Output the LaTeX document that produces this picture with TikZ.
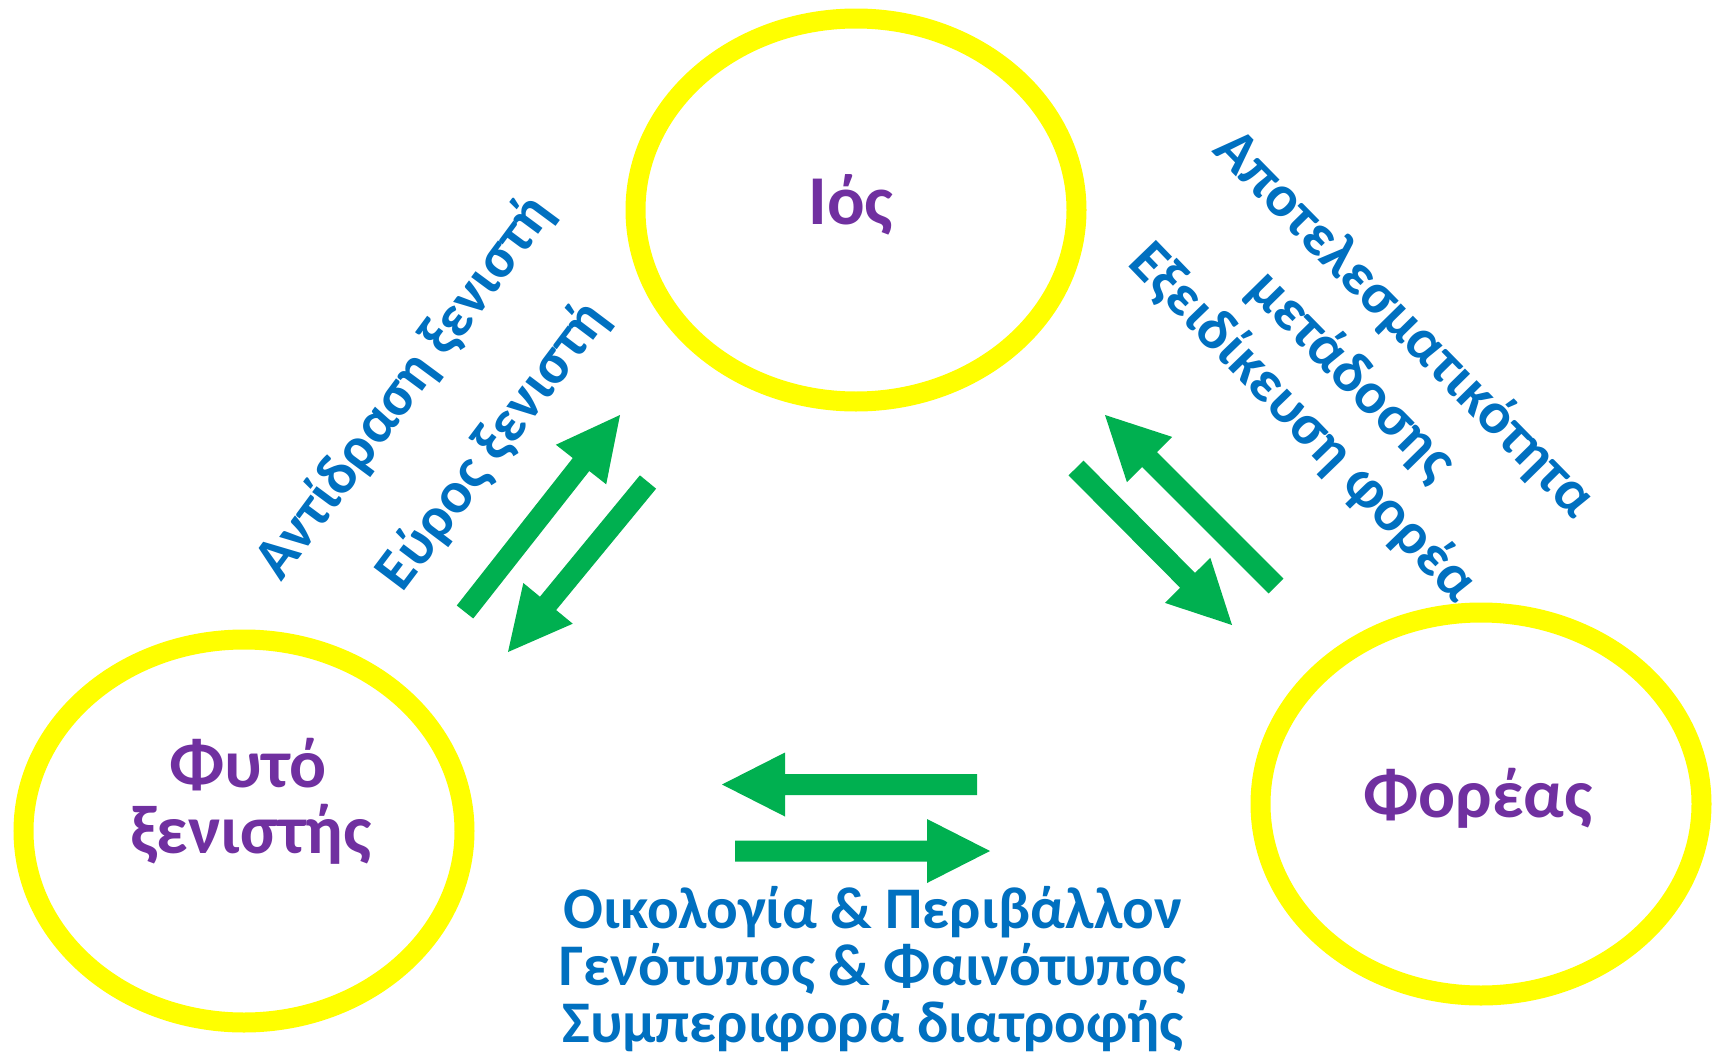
\documentclass[tikz,border=0pt]{standalone}
\usepackage{fontspec}
\setmainfont{Carlito}
\usetikzlibrary{calc,shapes.geometric}
\definecolor{ringyellow}{HTML}{FFFF00}
\definecolor{labpurple}{HTML}{7030A0}
\definecolor{labblue}{HTML}{0070C0}
\definecolor{arrgreen}{HTML}{00B050}
\newcommand\greenarrow[2]{%
  \fill[arrgreen]
    ($(#1)!10.5pt!90:(#2)$) --
    ($($(#2)!63pt!(#1)$)!10.5pt!90:(#2)$) --
    ($($(#2)!63pt!(#1)$)!32pt!90:(#2)$) --
    (#2) --
    ($($(#2)!63pt!(#1)$)!32pt!-90:(#2)$) --
    ($($(#2)!63pt!(#1)$)!10.5pt!-90:(#2)$) --
    ($(#1)!10.5pt!-90:(#2)$) -- cycle;}
\begin{document}
\begin{tikzpicture}[x=1pt,y=-1pt,
  ring/.style={draw=ringyellow, line width=20pt, ellipse, inner sep=0pt,
    minimum width=441pt, minimum height=383pt},
  bigtxt/.style={text=labpurple, font=\bfseries\fontsize{69}{69}\selectfont, inner sep=0pt, anchor=base},
  bluetxt/.style={text=labblue, font=\bfseries\fontsize{59}{59}\selectfont, inner sep=0pt, align=center}]
\useasboundingbox (0,0) rectangle (1717,1055);
\fill[white] (0,0) rectangle (1717,1055);

% rings
\node[ring] (ios) at (856,210) {};
\node[ring] (plant) at (244,831) {};
\node[ring] (vector) at (1481,804) {};

% ring labels
\node[bigtxt, font=\bfseries\fontsize{70}{70}\selectfont] (iostxt) at (851,224) {Ιός};
\node[bigtxt] (planttxt1) at (248,787) {Φυτό};
\node[bigtxt] (planttxt2) at (251,853) {ξενιστής};
\node[bigtxt] (vectortxt) at (1478,817) {Φορέας};

% rotated labels
\node[bluetxt, rotate=53.5] (react) at (405,388) {Αντίδραση ξενιστή};
\node[bluetxt, rotate=53] (range) at (493,446) {Εύρος ξενιστή};
\node[bluetxt, rotate=-45.5, font=\bfseries\fontsize{59}{74}\selectfont] (eff) at (1378,350) {Αποτελεσματικότητα\\μετάδοσης};
\node[bluetxt, rotate=-46] (spec) at (1303,423) {Εξειδίκευση φορέα};

% bottom label
\node[bluetxt, anchor=base] (eco) at (873,928) {Οικολογία \& Περιβάλλον};
\node[bluetxt, anchor=base] (geno) at (873,985.5) {Γενότυπος \& Φαινότυπος};
\node[bluetxt, anchor=base] (diet) at (873,1042) {Συμπεριφορά διατροφής};

% arrow end points
\coordinate (lu0) at (465,612);  \coordinate (lu1) at (620,415);
\coordinate (ld0) at (648,482);  \coordinate (ld1) at (508,652);
\coordinate (ru0) at (1276,586); \coordinate (ru1) at (1105,415);
\coordinate (rd0) at (1076,468); \coordinate (rd1) at (1232,625);
\coordinate (bl0) at (977,784.5); \coordinate (bl1) at (722,784.5);
\coordinate (br0) at (735,851);  \coordinate (br1) at (990,851);

\greenarrow{lu0}{lu1}
\greenarrow{ld0}{ld1}
\greenarrow{ru0}{ru1}
\greenarrow{rd0}{rd1}
\greenarrow{bl0}{bl1}
\greenarrow{br0}{br1}
\end{tikzpicture}
\end{document}
